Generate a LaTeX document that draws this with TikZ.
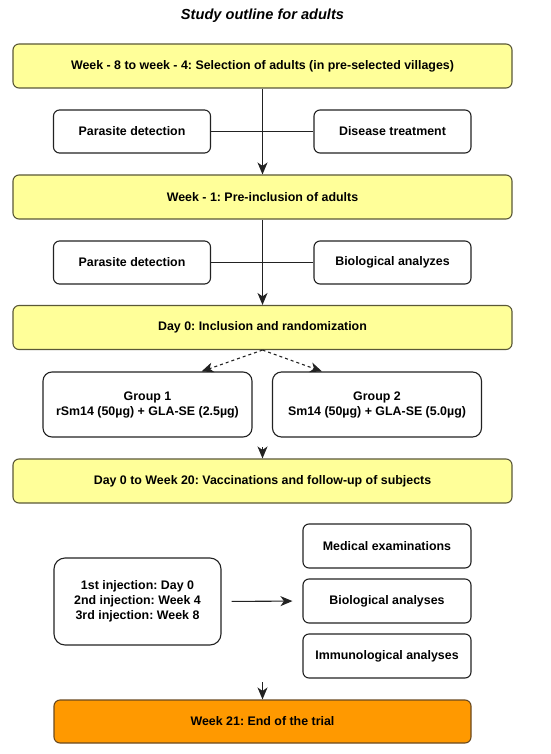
\documentclass[tikz,border=0pt]{standalone}
\usepackage{fontspec}
\setmainfont{Liberation Sans}
\usetikzlibrary{arrows.meta}
\definecolor{boxyellow}{HTML}{FFFF99}
\definecolor{boxorange}{HTML}{FF9900}
\definecolor{edge}{HTML}{222222}
\definecolor{yedge}{HTML}{5A5838}
\definecolor{oedge}{HTML}{6A4A20}
\frenchspacing
\tikzset{
  base/.style={draw=edge, line width=1.1pt, rounded corners=6pt, inner sep=0pt,
    font=\fontsize{12.4}{15}\selectfont\bfseries, align=center, text=black},
  phase/.style={base, draw=yedge, fill=boxyellow, minimum width=499pt, minimum height=44pt},
  sidebox/.style={base, fill=white, minimum width=157pt, minimum height=43pt},
  groupbox/.style={base, fill=white, minimum width=209pt, minimum height=65pt, rounded corners=9pt},
  endbox/.style={base, draw=oedge, fill=boxorange, minimum width=417pt, minimum height=43pt},
  arr/.style={-{Stealth[length=12pt,width=10pt,inset=3.5pt]}, line width=1.1pt, draw=edge},
  link/.style={line width=1.1pt, draw=edge},
}
\begin{document}
\begin{tikzpicture}[x=1pt,y=-1pt]
\useasboundingbox (0,0) rectangle (550,754);
\node[font=\fontsize{14.6}{17}\selectfont\bfseries\itshape] (title) at (262.5,16) {Study outline for adults};

\node[phase] (p1) at (262.5,66) {Week - 8 to week - 4: Selection of adults (in pre-selected villages)};
\node[sidebox] (pd1) at (132,131.5) {Parasite detection};
\node[sidebox] (dt1) at (392.5,131.5) {Disease treatment};

\node[phase] (p2) at (262.5,197) {Week - 1: Pre-inclusion of adults};
\node[sidebox] (pd2) at (132,262.5) {Parasite detection};
\node[sidebox] (ba2) at (392.5,262.5) {Biological analyzes};

\node[phase] (p3) at (262.5,327.5) {Day 0: Inclusion and randomization};
\node[groupbox] (g1) at (147.5,404.5) {Group 1\\rSm14 (50µg) + GLA-SE (2.5µg)};
\node[groupbox] (g2) at (377,404.5) {Group 2\\Sm14 (50µg) + GLA-SE (5.0µg)};

\node[phase] (p4) at (262.5,481) {Day 0 to Week 20: Vaccinations and follow-up of subjects};

\node[base, fill=white, minimum width=167pt, minimum height=87pt, rounded corners=11pt] (inj) at (137.5,601.5)
  {1st injection: Day 0\\2nd injection: Week 4\\3rd injection: Week 8};
\node[sidebox, minimum width=168pt, minimum height=44pt] (med) at (387,546) {Medical examinations};
\node[sidebox, minimum width=168pt, minimum height=44pt] (bio) at (387,601) {Biological analyses};
\node[sidebox, minimum width=168pt, minimum height=44pt] (imm) at (387,656) {Immunological analyses};

\node[endbox] (p5) at (262.5,721.5) {Week 21: End of the trial};

% connectors
\draw[link] (pd1) -- (dt1);
\draw[arr] (p1.south) -- (p2.north);
\draw[link] (pd2) -- (ba2);
\draw[arr] (p2.south) -- (p3.north);
\draw[arr, dashed] (p3.south) -- ([xshift=54pt]g1.north);
\draw[arr, dashed] (p3.south) -- ([xshift=-55pt]g2.north);
\coordinate (gsplit) at (262.5,447);
\draw[arr] (gsplit) -- (p4.north);
\draw[arr, shorten <=10pt, shorten >=10pt] (inj.east) -- (bio.west);
\coordinate (esplit) at (262.5,682);
\draw[arr] (esplit) -- (p5.north);
\end{tikzpicture}
\end{document}
